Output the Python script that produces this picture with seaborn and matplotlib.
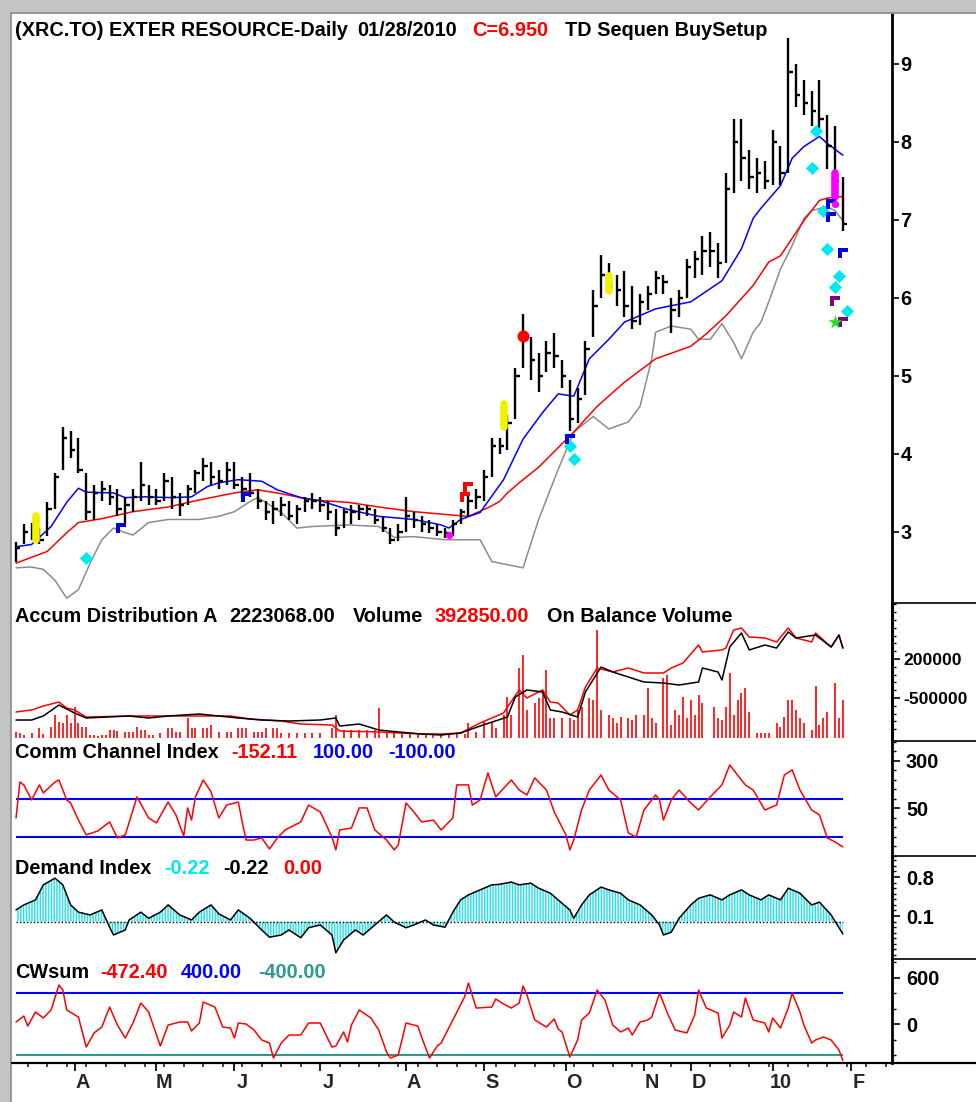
import matplotlib
matplotlib.use("Agg")
import matplotlib.pyplot as plt
import matplotlib.transforms as mtrans
from matplotlib.lines import Line2D
from matplotlib.patches import Rectangle
import seaborn as sns

# ---- price bars (every 2nd trading day, day 0 = mid March 2009) ----
bar_day = list(range(0, 213, 2))
bar_high = [2.87, 3.10, 3.12, 3.05, 3.38, 3.75, 4.35, 4.30, 4.20, 3.75,
            3.60, 3.65, 3.60, 3.55, 3.45, 3.55, 3.90, 3.60, 3.55, 3.75,
            3.70, 3.50, 3.60, 3.80, 3.95, 3.90, 3.80, 3.90, 3.90, 3.70,
            3.75, 3.55, 3.40, 3.40, 3.45, 3.40, 3.35, 3.45, 3.50, 3.45,
            3.40, 3.30, 3.30, 3.35, 3.35, 3.35, 3.30, 3.20, 3.05, 3.10,
            3.45, 3.25, 3.20, 3.15, 3.10, 3.05, 3.15, 3.30, 3.50, 3.55,
            3.80, 4.20, 4.20, 4.50, 5.10, 5.80, 5.50, 5.30, 5.45, 5.55,
            5.20, 4.95, 4.85, 5.45, 6.10, 6.55, 6.45, 6.30, 6.35, 6.15,
            6.05, 6.15, 6.35, 6.30, 6.00, 6.10, 6.50, 6.60, 6.80, 6.85,
            6.70, 7.60, 8.30, 8.30, 7.90, 7.80, 7.75, 8.15, 7.95, 9.33,
            9.00, 8.80, 8.65, 8.80, 8.35, 8.20, 7.55]
bar_low = [2.62, 2.85, 2.90, 2.85, 2.95, 3.30, 3.80, 3.95, 3.75, 3.15,
           3.15, 3.40, 3.35, 3.20, 3.10, 3.25, 3.40, 3.35, 3.35, 3.40,
           3.30, 3.20, 3.35, 3.50, 3.65, 3.60, 3.55, 3.60, 3.55, 3.45,
           3.45, 3.30, 3.15, 3.10, 3.20, 3.15, 3.10, 3.25, 3.30, 3.25,
           3.15, 2.95, 3.05, 3.10, 3.15, 3.20, 3.10, 3.00, 2.85, 2.88,
           3.00, 3.05, 3.00, 2.98, 2.95, 2.92, 2.95, 3.10, 3.20, 3.30,
           3.40, 3.70, 4.00, 4.05, 4.45, 5.10, 4.95, 4.80, 5.05, 5.10,
           4.85, 4.30, 4.40, 4.75, 5.50, 6.00, 6.05, 5.90, 5.75, 5.60,
           5.65, 5.85, 6.05, 6.05, 5.55, 5.75, 6.00, 6.25, 6.30, 6.40,
           6.25, 6.45, 7.35, 7.50, 7.40, 7.35, 7.40, 7.45, 7.45, 7.60,
           8.45, 8.35, 8.20, 8.10, 7.65, 7.25, 6.86]
bar_close = [2.80, 3.00, 2.95, 2.90, 3.30, 3.70, 4.20, 4.05, 3.80, 3.25,
             3.50, 3.55, 3.45, 3.30, 3.35, 3.45, 3.60, 3.45, 3.40, 3.65,
             3.45, 3.35, 3.55, 3.75, 3.85, 3.70, 3.65, 3.80, 3.60, 3.55,
             3.50, 3.40, 3.25, 3.30, 3.35, 3.20, 3.30, 3.40, 3.40, 3.35,
             3.25, 3.05, 3.25, 3.25, 3.30, 3.30, 3.15, 3.05, 2.90, 3.00,
             3.20, 3.15, 3.10, 3.05, 3.00, 2.98, 3.10, 3.25, 3.40, 3.45,
             3.70, 4.10, 4.10, 4.40, 5.00, 5.50, 5.20, 5.00, 5.30, 5.25,
             5.00, 4.45, 4.70, 5.35, 5.90, 6.30, 6.15, 6.10, 5.90, 5.70,
             5.95, 6.05, 6.25, 6.20, 5.85, 6.00, 6.40, 6.50, 6.60, 6.60,
             6.45, 7.40, 8.00, 7.80, 7.55, 7.60, 7.50, 8.00, 7.60, 8.90,
             8.60, 8.50, 8.40, 8.30, 7.95, 7.50, 6.95]

# ---- overlay lines on price ----
blue_day = [0, 4, 9, 13, 16, 18, 25, 28, 33, 40, 45, 49, 52, 57, 63, 67, 73, 78, 85, 93,
            102, 109, 111, 114, 119, 125, 130, 135, 139, 143, 147, 152, 156, 164, 173,
            181, 186, 189, 191, 196, 199, 202, 206, 208, 212]
blue_val = [2.81, 2.84, 3.07, 3.38, 3.56, 3.51, 3.50, 3.44, 3.45, 3.44, 3.45, 3.58, 3.63,
            3.67, 3.65, 3.54, 3.44, 3.40, 3.29, 3.20, 3.16, 3.09, 3.05, 3.16, 3.25, 3.67,
            4.19, 4.53, 4.77, 4.74, 5.22, 5.47, 5.69, 5.86, 5.95, 6.22, 6.63, 7.02, 7.15,
            7.44, 7.79, 7.94, 8.07, 7.98, 7.83]
red_day = [0, 8, 13, 16, 22, 30, 39, 47, 56, 62, 68, 76, 85, 93, 102, 111, 116, 121, 124,
           126, 129, 134, 143, 149, 156, 164, 173, 177, 182, 189, 193, 196, 202, 206, 208, 212]
red_val = [2.60, 2.75, 2.99, 3.12, 3.17, 3.26, 3.32, 3.41, 3.50, 3.54, 3.49, 3.41, 3.38,
           3.32, 3.26, 3.22, 3.20, 3.31, 3.39, 3.50, 3.63, 3.83, 4.28, 4.61, 4.92, 5.22,
           5.38, 5.54, 5.77, 6.16, 6.46, 6.54, 6.99, 7.25, 7.28, 7.30]
gray_day = [0, 4, 7, 10, 13, 16, 19, 22, 25, 28, 30, 34, 39, 47, 52, 56, 60, 62, 64, 68,
            72, 76, 85, 93, 97, 102, 110, 119, 122, 130, 134, 139, 143, 148, 152, 157, 160,
            163, 164, 168, 173, 175, 178, 181, 184, 186, 189, 191, 193, 196, 199, 202, 204,
            208, 210, 212]
gray_val = [2.54, 2.55, 2.52, 2.38, 2.15, 2.26, 2.60, 2.90, 3.05, 2.99, 2.96, 3.12, 3.16,
            3.16, 3.20, 3.26, 3.39, 3.44, 3.38, 3.25, 3.05, 3.07, 3.09, 3.07, 2.93, 2.94,
            2.90, 2.90, 2.62, 2.54, 3.16, 3.80, 4.28, 4.48, 4.32, 4.41, 4.61, 5.22, 5.56,
            5.64, 5.60, 5.47, 5.47, 5.67, 5.43, 5.22, 5.56, 5.69, 5.95, 6.37, 6.67, 7.02,
            7.12, 7.17, 7.12, 6.99]

# ---- signal markers ----
ybar_day = [5, 125, 152]
ybar_lo = [2.90, 4.34, 6.09]
ybar_hi = [3.20, 4.64, 6.28]
mbar_day = [210]
mbar_lo = [7.30]
mbar_hi = [7.60]
mdot_day = [111, 210]
mdot_val = [2.96, 7.20]
cyan_day = [18, 142, 143, 205, 204, 207, 208, 211, 210, 213]
cyan_val = [2.67, 4.10, 3.93, 8.14, 7.66, 7.12, 6.63, 6.28, 6.14, 5.83]
bflag_day = [27, 59, 142, 209, 209, 212]
bflag_val = [3.05, 3.45, 4.19, 7.20, 7.04, 6.57]
rflag_day = [115, 116]
rflag_val = [3.45, 3.57]
rdot_day = [130]
rdot_val = [5.51]
pflag_day = [210, 212]
pflag_val = [5.96, 5.69]
star_day = [210]
star_val = [5.69]

# ---- accumulation / distribution, OBV, volume ----
ad_day = [0, 4, 7, 11, 13, 15, 18, 29, 34, 39, 47, 52, 57, 63, 70, 78, 82, 83, 88, 93,
          98, 104, 109, 114, 119, 126, 128, 131, 135, 137, 140, 144, 146, 150, 153, 157,
          161, 166, 170, 175, 176, 180, 181, 183, 186, 188, 192, 195, 198, 200, 205, 209,
          211, 212]
ad_val = [-895000, -895000, -823000, -626000, -697000, -769000, -859000, -823000, -859000,
          -823000, -787000, -823000, -859000, -895000, -913000, -895000, -859000, -1003000,
          -967000, -1074000, -1110000, -1146000, -1164000, -1128000, -1003000, -841000,
          -482000, -356000, -392000, -715000, -751000, -841000, -392000, 56000, -33000,
          -123000, -213000, -231000, -267000, -213000, 38000, -33000, -177000, 415000,
          667000, 362000, 451000, 397000, 685000, 577000, 631000, 415000, 631000, 397000]
obv_day = [0, 4, 7, 11, 13, 15, 18, 29, 37, 47, 55, 60, 68, 73, 81, 83, 93, 104, 109, 114,
           119, 125, 129, 131, 135, 137, 139, 142, 144, 146, 149, 153, 157, 161, 166, 168,
           171, 175, 176, 181, 182, 184, 186, 188, 192, 195, 198, 200, 204, 205, 209, 211, 212]
obv_val = [-751000, -715000, -644000, -572000, -680000, -715000, -841000, -823000, -823000,
           -823000, -823000, -877000, -913000, -967000, -985000, -1092000, -1110000,
           -1146000, -1146000, -1128000, -949000, -769000, -356000, -500000, -356000,
           -572000, -590000, -805000, -715000, -303000, 38000, -33000, 38000, -51000,
           -51000, 38000, 128000, 451000, 326000, 362000, 397000, 721000, 756000, 595000,
           577000, 505000, 756000, 577000, 505000, 667000, 415000, 631000, 397000]
vol_day = [0, 1, 2, 4, 6, 7, 9, 10, 11, 12,
           13, 14, 15, 16, 17, 18, 19, 20, 21, 22,
           23, 24, 25, 26, 28, 29, 30, 31, 32, 33,
           34, 35, 37, 39, 40, 41, 42, 44, 45, 46,
           48, 49, 50, 52, 54, 55, 57, 58, 59, 61,
           62, 63, 64, 66, 67, 68, 70, 72, 74, 76,
           78, 81, 82, 84, 86, 88, 90, 92, 93, 95,
           97, 99, 101, 103, 105, 107, 109, 111, 113, 115,
           116, 118, 120, 122, 123, 125, 126, 127, 129, 130,
           131, 133, 134, 135, 136, 137, 138, 140, 142, 143,
           144, 145, 147, 148, 149, 150, 152, 153, 154, 155,
           157, 158, 159, 161, 162, 163, 164, 166, 167, 168,
           169, 170, 171, 172, 173, 174, 175, 176, 179, 180,
           181, 182, 183, 184, 185, 186, 187, 188, 190, 191,
           192, 193, 195, 196, 197, 198, 199, 200, 201, 202,
           204, 205, 206, 207, 208, 210, 211, 212]
vol_k = [62, 52, 31, 52, 103, 41, 114, 238, 165, 155,
         238, 155, 320, 155, 114, 114, 31, 31, 21, 31,
         31, 83, 83, 72, 62, 62, 62, 114, 83, 83,
         31, 31, 52, 103, 103, 62, 62, 207, 103, 103,
         103, 103, 134, 62, 62, 62, 103, 103, 103, 62,
         62, 62, 103, 103, 103, 52, 52, 52, 52, 52,
         52, 103, 238, 83, 83, 83, 83, 83, 310, 52,
         52, 52, 52, 52, 52, 52, 41, 41, 41, 41,
         155, 62, 165, 165, 103, 238, 424, 238, 724, 858,
         290, 362, 414, 496, 703, 207, 207, 207, 207, 186,
         290, 320, 414, 393, 1117, 290, 238, 207, 155, 217,
         207, 186, 238, 238, 517, 207, 155, 620, 651, 134,
         290, 238, 424, 207, 393, 238, 445, 362, 320, 207,
         186, 320, 672, 238, 393, 465, 517, 269, 52, 52,
         52, 52, 155, 114, 217, 393, 393, 290, 207, 155,
         83, 538, 134, 207, 269, 569, 207, 393]

# ---- commodity channel index ----
cci_day = [0, 1, 2, 4, 6, 7, 10, 11, 13, 14, 16, 18, 21, 24, 26, 28, 30, 31, 34, 36,
           39, 41, 43, 44, 45, 46, 48, 50, 52, 54, 57, 58, 59, 61, 63, 65, 67, 69, 73, 75,
           78, 79, 81, 82, 83, 86, 88, 90, 92, 95, 97, 98, 100, 102, 104, 107, 109, 112,
           113, 116, 117, 119, 121, 123, 127, 129, 131, 133, 136, 138, 141, 142, 143, 145,
           147, 150, 152, 155, 157, 159, 161, 164, 165, 166, 168, 170, 173, 175, 178, 181,
           183, 185, 187, 189, 192, 195, 197, 199, 201, 204, 206, 208, 210, 212]
cci_val = [0, 189, 174, 95, 174, 132, 189, 200, 95, 79, -11, -89, -68, -21, -105, -89, 42,
           111, 0, -26, 84, 16, -95, 53, -11, 111, 200, 137, 0, 68, 84, -21, -116, -116,
           -105, -163, -105, -63, -21, 68, 32, -11, -100, -168, -63, -53, 53, 53, -63, -116,
           -168, -142, 79, 32, -21, -11, -63, 0, 174, 174, 68, 95, 237, 111, 200, 147, 121,
           211, 147, 32, -89, -168, -116, 42, 147, 226, 147, 95, -79, -100, 42, 121, 95,
           -11, 95, 147, 79, 42, 111, 174, 279, 226, 174, 147, 42, 68, 226, 253, 147, 42,
           16, -105, -126, -152]

# ---- demand index ----
di_day = [0, 2, 5, 7, 10, 12, 14, 16, 19, 22, 24, 25, 28, 29, 32, 34, 37, 39, 42, 45,
          47, 50, 52, 55, 57, 60, 63, 65, 68, 70, 73, 75, 78, 81, 82, 84, 87, 89, 92, 95,
          97, 100, 102, 105, 107, 110, 112, 114, 116, 119, 122, 124, 127, 129, 132, 134,
          137, 139, 142, 143, 145, 147, 150, 152, 155, 157, 160, 163, 165, 166, 168, 170,
          173, 175, 178, 181, 183, 186, 188, 191, 193, 196, 198, 201, 204, 206, 209, 211, 212]
di_val = [0.21, 0.30, 0.39, 0.66, 0.78, 0.66, 0.30, 0.17, 0.12, 0.21, -0.10, -0.24, -0.15,
          0.03, 0.17, 0.06, 0.17, 0.30, 0.12, 0.03, 0.17, 0.30, 0.14, 0.03, 0.21, 0.06,
          -0.15, -0.28, -0.24, -0.15, -0.29, -0.11, -0.06, -0.24, -0.56, -0.33, -0.15,
          -0.24, -0.06, 0.12, -0.01, -0.11, -0.06, 0.03, -0.06, -0.10, 0.17, 0.39, 0.48,
          0.57, 0.66, 0.67, 0.71, 0.66, 0.69, 0.60, 0.51, 0.39, 0.21, 0.06, 0.30, 0.48,
          0.62, 0.57, 0.51, 0.39, 0.30, 0.12, -0.06, -0.24, -0.19, 0.06, 0.30, 0.42, 0.48,
          0.39, 0.48, 0.57, 0.48, 0.39, 0.48, 0.39, 0.60, 0.51, 0.30, 0.35, 0.12, -0.11, -0.22]

# ---- CWsum ----
cw_day = [0, 2, 3, 5, 7, 9, 11, 12, 13, 16, 18, 20, 22, 24, 26, 28, 30, 32, 34, 37,
          39, 42, 44, 45, 47, 48, 51, 53, 55, 56, 57, 59, 61, 63, 65, 66, 68, 70, 73, 75,
          78, 81, 82, 84, 85, 86, 88, 91, 93, 95, 96, 98, 100, 103, 104, 106, 108, 109,
          112, 115, 116, 118, 122, 123, 125, 127, 129, 130, 131, 133, 136, 138, 139, 140,
          142, 144, 145, 147, 149, 151, 153, 155, 157, 158, 160, 162, 163, 165, 167, 169,
          172, 174, 175, 177, 180, 181, 183, 184, 186, 187, 189, 192, 193, 194, 196, 198,
          199, 201, 202, 204, 205, 207, 209, 211, 212]
cw_val = [26, 103, -26, 155, 78, 181, 503, 439, 181, 90, -297, -116, -39, 219, -13, -181,
          13, 271, 155, -284, -13, 26, 26, -90, 13, 284, 219, -39, -52, -181, 13, 0, -77,
          -206, -245, -439, -245, -142, -142, 13, 13, -297, -284, -103, -232, -13, 181, 78,
          -77, -361, -439, -400, 13, -26, -168, -439, -284, -245, 52, 348, 529, 206, 219,
          323, 258, 206, 271, 490, 374, 52, -39, 65, -64, -103, -426, -206, 52, 142, 439,
          310, -13, -103, -52, -142, 26, 52, 90, 400, 142, -77, -116, 116, 439, 206, 142,
          -181, -13, 155, 90, 336, 52, 13, -103, 78, -52, 206, 400, 155, -13, -245, -206,
          -168, -206, -335, -472]

# ---- time axis ----
month_day = [15, 36, 56, 78, 100, 120, 141, 161, 173, 194, 214]
month_lbl = ['A', 'M', 'J', 'J', 'A', 'S', 'O', 'N', 'D', '10', 'F']

RED, BLUE, GRAY = '#ff0000', '#0000ff', '#8c8c8c'
CYAN, TEAL, PURPLE = '#00e8f0', '#2e9a8a', '#800080'

sns.set_style("white")
plt.rcParams['font.family'] = ['Liberation Sans', 'DejaVu Sans']
plt.rcParams['font.weight'] = 'bold'
plt.rcParams['hatch.linewidth'] = 1.1

W, H = 976, 1102
X0, X1 = 12, 892
FS = 14.3
fig = plt.figure(figsize=(W / 100, H / 100), dpi=100)


def panel(top, bottom, share=None):
    return fig.add_axes([X0 / W, 1 - bottom / H, (X1 - X0) / W, (bottom - top) / H],
                        sharex=share)


ax_p = panel(14, 603)
ax_vol = panel(603, 741, ax_p)
ax_ad = ax_vol.twinx()
ax_cci = panel(741, 856, ax_p)
ax_di = panel(856, 959, ax_p)
ax_cw = panel(959, 1063, ax_p)


def line(ax, x, y, color, lw=1.1):
    sns.lineplot(x=x, y=y, ax=ax, color=color, linewidth=lw, legend=False, errorbar=None)


# price panel
line(ax_p, gray_day, gray_val, GRAY)
line(ax_p, red_day, red_val, RED)
line(ax_p, blue_day, blue_val, BLUE)
ax_p.vlines(bar_day, bar_low, bar_high, colors='black', lw=1.7, zorder=3)
ax_p.hlines(bar_close, bar_day, [d + 1.1 for d in bar_day], colors='black', lw=1.7, zorder=3)
ax_p.vlines(ybar_day, ybar_lo, ybar_hi, colors='#f2f200', lw=5.5, capstyle='round', zorder=4)
ax_p.vlines(mbar_day, mbar_lo, mbar_hi, colors='#ff00ff', lw=5.5, capstyle='round', zorder=4)

flag = [(-1, 1), (1, 1), (1, 0.15), (-0.15, 0.15), (-0.15, -1), (-1, -1), (-1, 1)]
sns.scatterplot(x=cyan_day, y=cyan_val, ax=ax_p, marker='D', s=45, color=CYAN,
                linewidth=0, legend=False, zorder=5)
sns.scatterplot(x=bflag_day, y=bflag_val, ax=ax_p, marker=flag, s=55, color='#0000e0',
                linewidth=0, legend=False, zorder=5)
sns.scatterplot(x=rflag_day, y=rflag_val, ax=ax_p, marker=flag, s=55, color=RED,
                linewidth=0, legend=False, zorder=5)
sns.scatterplot(x=pflag_day, y=pflag_val, ax=ax_p, marker=flag, s=55, color=PURPLE,
                linewidth=0, legend=False, zorder=5)
sns.scatterplot(x=rdot_day, y=rdot_val, ax=ax_p, marker='o', s=75, color=RED,
                linewidth=0, legend=False, zorder=5)
sns.scatterplot(x=mdot_day, y=mdot_val, ax=ax_p, marker='o', s=28, color='#ff00ff',
                linewidth=0, legend=False, zorder=5)
sns.scatterplot(x=star_day, y=star_val, ax=ax_p, marker='*', s=110, color='#22dd22',
                linewidth=0, legend=False, zorder=5)
ax_p.set_ylim(2.089, 9.64)
ax_p.set_yticks(range(3, 10))

# accumulation / volume panel
ax_vol.vlines(vol_day, 0, vol_k, colors=RED, lw=1.2)
ax_vol.set_ylim(-31, 1396)
line(ax_ad, obv_day, obv_val, RED)
line(ax_ad, ad_day, ad_val, 'black')
ax_ad.set_ylim(-1271800, 1205000)
ax_ad.set_yticks([200000, -500000], labels=['200000', '-500000'])
ax_ad.set_yticks([200000 - 140000 * k for k in range(-7, 10)], minor=True)

# CCI panel
ax_cci.hlines([100, -100], 0, 212, colors=BLUE, lw=1.5)
line(ax_cci, cci_day, cci_val, RED)
ax_cci.set_ylim(-200, 405)
ax_cci.set_yticks([300, 50], labels=['300', '50'])
ax_cci.set_yticks(range(-200, 401, 50), minor=True)

# demand index panel
ax_di.fill_between(di_day, di_val, 0, facecolor='white', edgecolor='#30e0e8',
                   hatch='|' * 6, linewidth=0, interpolate=True)
ax_di.hlines(0, 0, 212, colors='black', linestyles=(0, (1, 1.5)), lw=1)
line(ax_di, di_day, di_val, 'black')
ax_di.set_ylim(-0.671, 1.178)
ax_di.set_yticks([0.8, 0.1], labels=['0.8', '0.1'])
ax_di.set_yticks([v / 10 for v in range(-6, 12)], minor=True)

# CWsum panel
ax_cw.hlines(400, 0, 212, colors=BLUE, lw=1.5)
ax_cw.hlines(-400, 0, 212, colors=TEAL, lw=1.5)
line(ax_cw, cw_day, cw_val, RED)
ax_cw.set_ylim(-503, 839)
ax_cw.set_yticks([600, 0], labels=['600', '0'])
ax_cw.set_yticks(range(-400, 801, 200), minor=True)

# axes styling
for ax in [ax_p, ax_ad, ax_cci, ax_di, ax_cw, ax_vol]:
    ax.set_xlabel('')
    ax.set_ylabel('')
    ax.set_facecolor('none')
    for s in ['top', 'left', 'bottom']:
        ax.spines[s].set_visible(False)
    ax.spines['right'].set_linewidth(2)
    ax.spines['right'].set_color('black')
    ax.tick_params(axis='x', which='both', bottom=False, labelbottom=False)
    ax.yaxis.tick_right()
    ax.tick_params(axis='y', which='both', direction='out', colors='black',
                   labelsize=FS, pad=4)
    ax.tick_params(axis='y', which='major', length=6, width=1.2)
    ax.tick_params(axis='y', which='minor', length=3, width=1)
ax_vol.set_yticks([])
ax_p.tick_params(axis='y', which='major', length=5, pad=1)
# the long volume-scale labels have to fit inside the right margin
ax_ad.tick_params(axis='y', which='major', labelsize=12.6, pad=2)

ax_cw.set_xlim(-1.03, 224.6)
ax_cw.set_xticks(month_day, labels=[''] * len(month_day))
ax_cw.set_xticks(list(range(3, 225, 5)), minor=True)
ax_cw.tick_params(axis='x', which='major', bottom=True, direction='out', length=6, width=1.5)
ax_cw.tick_params(axis='x', which='minor', bottom=True, direction='out', length=3, width=1.2)
tr = mtrans.blended_transform_factory(ax_cw.transData, ax_cw.transAxes)
for d, lbl in zip(month_day, month_lbl):
    ax_cw.text(d + 2, -0.185, lbl, transform=tr, ha='center', va='center', fontsize=FS)


# titles
def txt(x, y, s, color='black'):
    fig.text(x / W, 1 - y / H, s, color=color, fontsize=FS, ha='left', va='center')


txt(15, 30, '(XRC.TO) EXTER RESOURCE-Daily')
txt(357, 30, '01/28/2010')
txt(472, 30, 'C=6.950', RED)
txt(565, 30, 'TD Sequen BuySetup')
txt(15, 617, 'Accum Distribution A')
txt(229, 617, '2223068.00')
txt(353, 617, 'Volume')
txt(435, 617, '392850.00', RED)
txt(547, 617, 'On Balance Volume')
txt(15, 753, 'Comm Channel Index')
txt(231, 753, '-152.11', RED)
txt(313, 753, '100.00', BLUE)
txt(388, 753, '-100.00', BLUE)
txt(15, 868, 'Demand Index')
txt(164, 868, '-0.22', CYAN)
txt(223, 868, '-0.22')
txt(283, 868, '0.00', RED)
txt(15, 972, 'CWsum')
txt(100, 972, '-472.40', RED)
txt(181, 972, '400.00', BLUE)
txt(258, 972, '-400.00', TEAL)

# frame pieces: window border, right-hand separators, bottom axis line
fig.patches.append(Rectangle((0, 0), 11 / W, 1, transform=fig.transFigure,
                             facecolor='#c4c4c4', edgecolor='none'))
fig.patches.append(Rectangle((0, 1 - 13 / H), 1, 13 / H, transform=fig.transFigure,
                             facecolor='#c4c4c4', edgecolor='none'))
fig.lines.append(Line2D([11 / W, 11 / W], [0, 1 - 13 / H], transform=fig.transFigure,
                        color='#8a8a8a', lw=1.2))
fig.lines.append(Line2D([11 / W, 1], [1 - 13 / H] * 2, transform=fig.transFigure,
                        color='#8a8a8a', lw=1.2))
for yy in [603, 741, 856, 959]:
    fig.lines.append(Line2D([X1 / W, 1], [1 - yy / H] * 2, transform=fig.transFigure,
                            color='black', lw=1.2))
fig.lines.append(Line2D([X0 / W, 1], [1 - 1063 / H] * 2, transform=fig.transFigure,
                        color='black', lw=1.6))

fig.savefig('out.png', dpi=100, facecolor='white')
